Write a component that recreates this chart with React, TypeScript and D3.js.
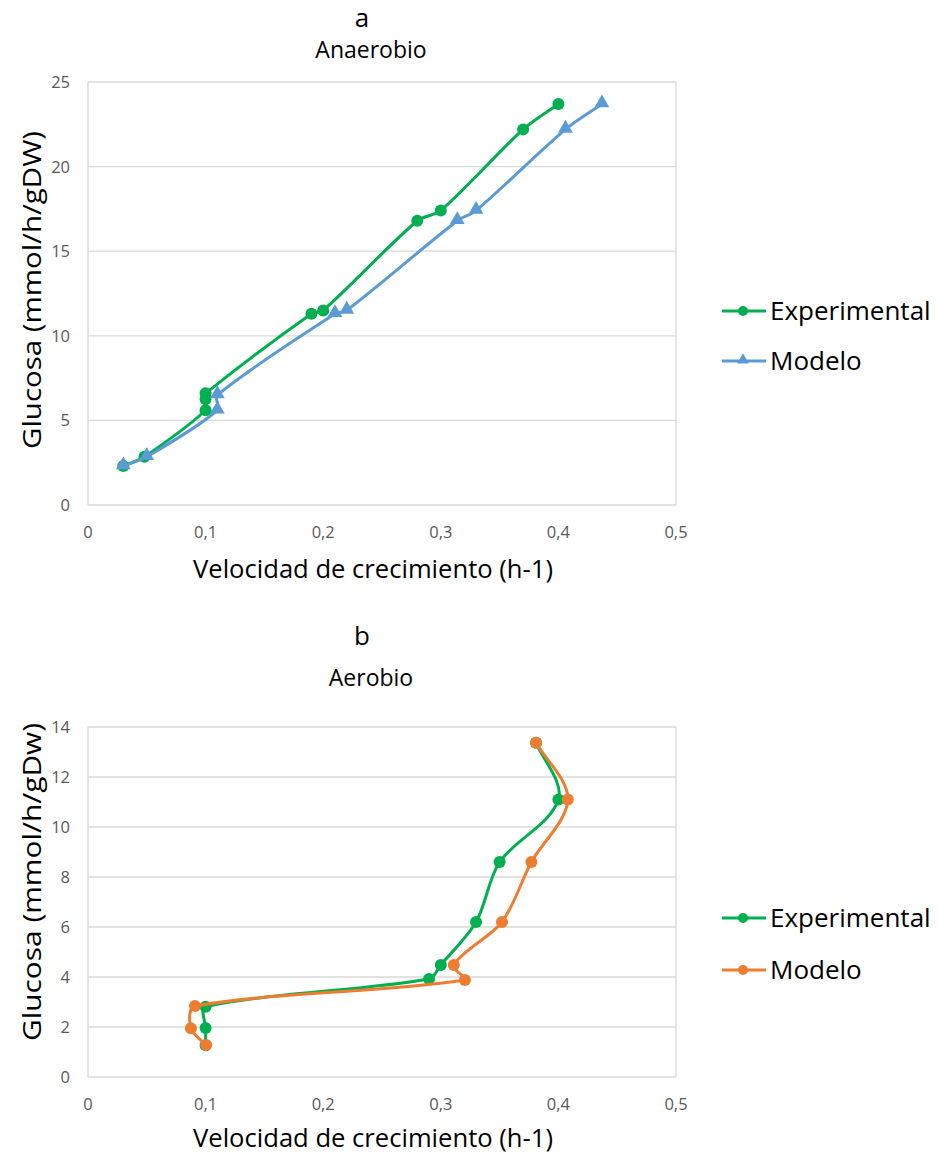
import React from "react";
import * as d3 from "d3";

// chart a: anaerobio
const anaExpX = [0.03, 0.048, 0.1, 0.1, 0.1, 0.19, 0.2, 0.28, 0.3, 0.37, 0.4];
const anaExpY = [2.3, 2.85, 5.6, 6.25, 6.6, 11.3, 11.5, 16.8, 17.4, 22.2, 23.7];
const anaModX = [0.03, 0.05, 0.11, 0.11, 0.21, 0.22, 0.314, 0.33, 0.406, 0.437];
const anaModY = [2.3, 2.85, 5.6, 6.5, 11.3, 11.5, 16.8, 17.4, 22.2, 23.7];

// chart b: aerobio
const aeroExpX = [0.381, 0.4, 0.35, 0.33, 0.3, 0.29, 0.1, 0.1, 0.1];
const aeroExpY = [13.37, 11.1, 8.6, 6.2, 4.48, 3.92, 2.81, 1.96, 1.27];
const aeroModX = [0.381, 0.408, 0.377, 0.352, 0.311, 0.3205, 0.091, 0.0875, 0.1005];
const aeroModY = [13.37, 11.1, 8.6, 6.2, 4.48, 3.88, 2.84, 1.95, 1.28];

const xTicks = [0, 0.1, 0.2, 0.3, 0.4, 0.5];
const anaYTicks = [0, 5, 10, 15, 20, 25];
const aeroYTicks = [0, 2, 4, 6, 8, 10, 12, 14];

const GREEN = "#00B050";
const BLUE = "#5B9BD5";
const ORANGE = "#ED7D31";
const GRID = "#D9D9D9";
const TICK = "#595959";
const FONT = "'Open Sans', 'Noto Sans', sans-serif";

type Series = { name: string; xs: number[]; ys: number[]; color: string; marker: "circle" | "triangle" };

const fmt = (v: number) => String(v).replace(".", ",");

// smoothed line: tangent direction from the neighbours, length from the segment itself
// (keeps short segments from looping and long ones nearly straight, like the spreadsheet)
function smoothPath(pts: [number, number][], k = 0.3) {
  const p = d3.path();
  const n = pts.length;
  const dir = pts.map((_, i) => {
    const a = pts[Math.max(0, i - 1)];
    const b = pts[Math.min(n - 1, i + 1)];
    const dx = b[0] - a[0], dy = b[1] - a[1];
    const len = Math.hypot(dx, dy) || 1;
    return [dx / len, dy / len];
  });
  p.moveTo(pts[0][0], pts[0][1]);
  for (let i = 0; i < n - 1; i++) {
    const [x0, y0] = pts[i];
    const [x1, y1] = pts[i + 1];
    const L = Math.hypot(x1 - x0, y1 - y0) * k;
    p.bezierCurveTo(x0 + dir[i][0] * L, y0 + dir[i][1] * L, x1 - dir[i + 1][0] * L, y1 - dir[i + 1][1] * L, x1, y1);
  }
  return p.toString();
}

function Panel({ top, bottom, yMax, yTicks, letter, title, yLabel, series, letterY, titleY, xTitleY, legendY, yLabelY }: {
  top: number; bottom: number; yMax: number; yTicks: number[]; letter: string; title: string; yLabel: string;
  series: Series[]; letterY: number; titleY: number; xTitleY: number; legendY: number[]; yLabelY: number;
}) {
  const x = d3.scaleLinear().domain([0, 0.5]).range([88, 676]);
  const y = d3.scaleLinear().domain([0, yMax]).range([bottom, top]);
  const tri = d3.symbol().type(d3.symbolTriangle).size(95);
  const triLegend = d3.symbol().type(d3.symbolTriangle).size(60);
  return (
    <g>
      <text x={362} y={letterY} textAnchor="middle" fontSize={26} fontFamily={FONT} fill="#000">{letter}</text>
      <text x={371} y={titleY} textAnchor="middle" fontSize={23} fontFamily={FONT} fill="#000">{title}</text>
      {yTicks.map(t => (
        <g key={t}>
          <line x1={x(0)} x2={x(0.5)} y1={y(t)} y2={y(t)} stroke={GRID} strokeWidth={1.3} />
          <text x={70} y={y(t) + 6} textAnchor="end" fontSize={16.5} fontFamily={FONT} fill={TICK}>{t}</text>
        </g>
      ))}
      <line x1={x(0)} x2={x(0)} y1={y(0)} y2={y(yMax)} stroke={GRID} strokeWidth={1.5} />
      <line x1={x(0.5)} x2={x(0.5)} y1={y(0)} y2={y(yMax)} stroke={GRID} strokeWidth={1.3} />
      {xTicks.map(t => (
        <text key={t} x={x(t)} y={bottom + 33} textAnchor="middle" fontSize={16.5} fontFamily={FONT} fill={TICK}>{fmt(t)}</text>
      ))}
      <text x={373} y={xTitleY} textAnchor="middle" fontSize={25} fontFamily={FONT} fill="#000" textLength={360} lengthAdjust="spacingAndGlyphs">Velocidad de crecimiento (h-1)</text>
      <text transform={`translate(41,${yLabelY}) rotate(-90)`} textAnchor="middle" fontSize={25} fontFamily={FONT} fill="#000" textLength={318} lengthAdjust="spacingAndGlyphs">{yLabel}</text>
      {series.map(s => {
        const pts = s.xs.map((v, i) => [x(v), y(s.ys[i])] as [number, number]);
        return (
          <g key={s.name}>
            <path d={smoothPath(pts)} fill="none" stroke={s.color} strokeWidth={3} />
            {pts.map((p, i) => s.marker === "circle"
              ? <circle key={i} cx={p[0]} cy={p[1]} r={6} fill={s.color} />
              : <path key={i} d={tri() || ""} transform={`translate(${p[0]},${p[1] - 1})`} fill={s.color} />)}
          </g>
        );
      })}
      {series.map((s, i) => (
        <g key={"lg" + s.name}>
          <line x1={722} x2={766} y1={legendY[i]} y2={legendY[i]} stroke={s.color} strokeWidth={3} />
          {s.marker === "circle"
            ? <circle cx={743} cy={legendY[i]} r={5} fill={s.color} />
            : <path d={triLegend() || ""} transform={`translate(743,${legendY[i] - 1})`} fill={s.color} />}
          <text x={770} y={legendY[i] + 9} fontSize={26} fontFamily={FONT} fill="#000">{s.name}</text>
        </g>
      ))}
    </g>
  );
}

export default function App() {
  const seriesA: Series[] = [
    { name: "Experimental", xs: anaExpX, ys: anaExpY, color: GREEN, marker: "circle" },
    { name: "Modelo", xs: anaModX, ys: anaModY, color: BLUE, marker: "triangle" },
  ];
  const seriesB: Series[] = [
    { name: "Experimental", xs: aeroExpX, ys: aeroExpY, color: GREEN, marker: "circle" },
    { name: "Modelo", xs: aeroModX, ys: aeroModY, color: ORANGE, marker: "circle" },
  ];
  return (
    <svg width={938} height={1154} style={{ position: "absolute", left: 0, top: 0, background: "#fff" }}>
      <rect width={938} height={1154} fill="#fff" />
      <Panel top={82} bottom={505} yMax={25} yTicks={anaYTicks} letter="a" title="Anaerobio"
        yLabel="Glucosa (mmol/h/gDW)" series={seriesA} letterY={27} titleY={58} xTitleY={578}
        legendY={[311, 361]} yLabelY={290} />
      <Panel top={727} bottom={1077} yMax={14} yTicks={aeroYTicks} letter="b" title="Aerobio"
        yLabel="Glucosa (mmol/h/gDw)" series={seriesB} letterY={645} titleY={686} xTitleY={1147}
        legendY={[918, 970]} yLabelY={882} />
    </svg>
  );
}
